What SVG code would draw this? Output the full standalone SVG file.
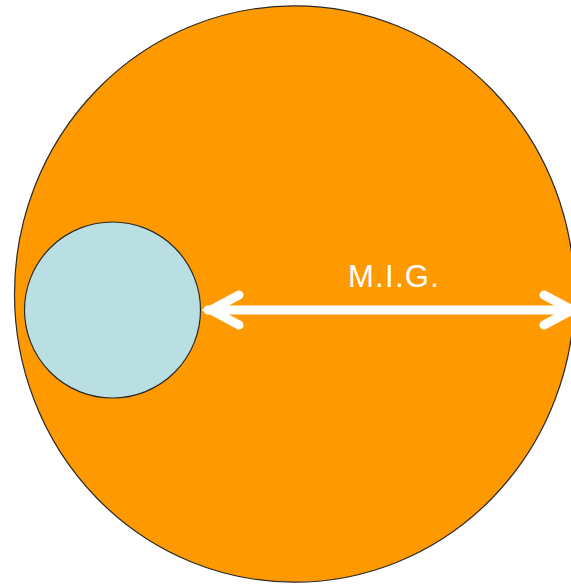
<svg xmlns="http://www.w3.org/2000/svg" width="571" height="584" viewBox="0 0 571 584">
  <style>
    .shape { stroke: #2a2a2a; stroke-width: 1.2; }
    .arrow { fill: none; stroke: #ffffff; stroke-width: 9; stroke-linecap: round; stroke-linejoin: miter; stroke-miterlimit: 6; }
    .label { font-family: "Liberation Sans", Arial, sans-serif; font-size: 31px; fill: #ffffff; letter-spacing: 1.3px; }
  </style>
  <rect width="571" height="584" fill="#ffffff"/>
  <g id="outer">
    <ellipse class="shape" cx="294.5" cy="294" rx="280" ry="288.2" fill="#ff9900"/>
  </g>
  <g id="inner">
    <ellipse class="shape" cx="112.5" cy="310" rx="88" ry="88" fill="#b9dfe2"/>
  </g>
  <g id="connectors">
    <line class="arrow" x1="208" y1="310" x2="575" y2="310"/>
    <path class="arrow" d="M239,295 L211,310 L239,325"/>
    <path class="arrow" d="M544,295 L572,310 L544,325"/>
  </g>
  <g id="label">
    <text class="label" x="348" y="287">M.I.G.</text>
  </g>
</svg>
